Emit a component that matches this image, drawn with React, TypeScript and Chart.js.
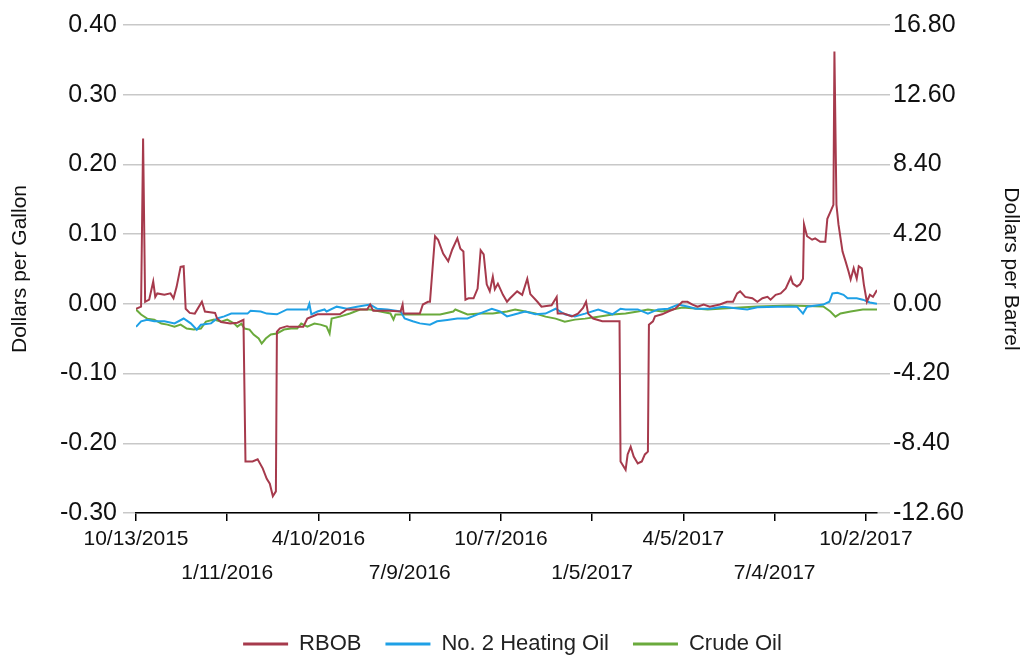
import { useEffect, useRef } from 'react';
import { Chart, registerables } from 'chart.js';

Chart.register(...registerables);

// Day offsets are counted from 10/13/2015
const xTickDays = [0, 90, 180, 270, 360, 450, 540, 630, 720];
const xTickLabels = ['10/13/2015', '1/11/2016', '4/10/2016', '7/9/2016', '10/7/2016', '1/5/2017', '4/5/2017', '7/4/2017', '10/2/2017'];

const rbobDays = [0, 5, 7, 9, 13, 17, 19, 21, 28, 34, 37, 40, 44, 47, 49, 53, 58, 65, 68, 73, 78, 80, 84, 93, 100, 106, 108, 115, 120, 125, 129, 132, 135, 138, 139, 142, 149, 152, 165, 169, 179, 185, 189, 201, 208, 220, 228, 231, 234, 250, 261, 263, 264, 280, 283, 288, 290, 295, 298, 303, 308, 312, 317, 320, 323, 325, 328, 333, 337, 340, 343, 346, 349, 352, 354, 357, 362, 366, 369, 376, 381, 386, 389, 396, 400, 410, 415, 416, 422, 430, 436, 441, 444, 446, 451, 460, 473, 477, 478, 483, 485, 488, 491, 495, 499, 502, 505, 506, 510, 512, 519, 525, 532, 539, 544, 549, 554, 560, 566, 576, 583, 589, 593, 596, 601, 608, 613, 618, 623, 626, 631, 636, 641, 646, 648, 652, 655, 658, 659, 662, 667, 670, 675, 680, 682, 685, 688, 689, 691, 693, 697, 700, 703, 705, 708, 711, 713, 716, 718, 721, 724, 727, 731];
const rbobValues = [-0.007, -0.004, 0.237, 0.003, 0.006, 0.032, 0.010, 0.015, 0.013, 0.015, 0.008, 0.024, 0.053, 0.054, -0.007, -0.013, -0.014, 0.003, -0.011, -0.012, -0.013, -0.021, -0.026, -0.028, -0.027, -0.023, -0.226, -0.226, -0.223, -0.236, -0.251, -0.258, -0.276, -0.269, -0.040, -0.035, -0.032, -0.033, -0.033, -0.021, -0.015, -0.015, -0.015, -0.015, -0.008, -0.008, -0.008, -0.001, -0.010, -0.010, -0.011, -0.001, -0.014, -0.014, -0.001, 0.003, 0.003, 0.097, 0.092, 0.072, 0.061, 0.078, 0.094, 0.079, 0.075, 0.006, 0.008, 0.008, 0.022, 0.077, 0.071, 0.028, 0.018, 0.039, 0.021, 0.029, 0.013, 0.003, 0.008, 0.018, 0.013, 0.036, 0.014, 0.003, -0.004, -0.002, 0.010, -0.014, -0.014, -0.018, -0.014, -0.006, 0.003, -0.014, -0.021, -0.025, -0.025, -0.025, -0.226, -0.238, -0.216, -0.205, -0.219, -0.229, -0.226, -0.216, -0.212, -0.030, -0.025, -0.018, -0.015, -0.011, -0.007, 0.003, 0.003, -0.001, -0.004, -0.001, -0.004, -0.001, 0.003, 0.003, 0.015, 0.018, 0.010, 0.008, 0.003, 0.008, 0.010, 0.006, 0.013, 0.015, 0.022, 0.038, 0.029, 0.025, 0.028, 0.036, 0.114, 0.097, 0.092, 0.094, 0.089, 0.089, 0.122, 0.132, 0.142, 0.362, 0.142, 0.114, 0.075, 0.061, 0.046, 0.035, 0.051, 0.036, 0.054, 0.051, 0.028, 0.003, 0.013, 0.010, 0.020];

const heatingDays = [0, 5, 11, 18, 28, 38, 47, 54, 60, 64, 74, 80, 87, 94, 100, 110, 113, 123, 129, 139, 149, 159, 169, 171, 173, 179, 186, 188, 198, 208, 218, 231, 238, 248, 261, 265, 273, 280, 290, 297, 307, 317, 327, 337, 351, 359, 366, 374, 384, 394, 404, 414, 423, 433, 443, 456, 470, 478, 483, 495, 505, 515, 525, 535, 545, 552, 566, 579, 596, 603, 613, 633, 652, 658, 662, 678, 684, 687, 692, 698, 702, 711, 717, 724, 731];
const heatingValues = [-0.033, -0.025, -0.023, -0.025, -0.025, -0.028, -0.021, -0.028, -0.037, -0.030, -0.028, -0.021, -0.018, -0.014, -0.014, -0.014, -0.010, -0.011, -0.014, -0.015, -0.008, -0.008, -0.008, 0.000, -0.015, -0.011, -0.008, -0.011, -0.004, -0.007, -0.004, -0.001, -0.007, -0.008, -0.011, -0.021, -0.025, -0.028, -0.030, -0.025, -0.023, -0.021, -0.021, -0.015, -0.007, -0.011, -0.018, -0.015, -0.011, -0.015, -0.014, -0.007, -0.015, -0.018, -0.014, -0.008, -0.015, -0.007, -0.008, -0.008, -0.014, -0.008, -0.007, -0.001, -0.004, -0.007, -0.007, -0.004, -0.007, -0.008, -0.005, -0.004, -0.004, -0.014, -0.004, -0.001, 0.003, 0.015, 0.016, 0.013, 0.008, 0.008, 0.006, 0.002, 0.000];

const crudeDays = [0, 5, 11, 18, 25, 31, 38, 44, 50, 57, 64, 69, 77, 84, 90, 97, 100, 104, 107, 112, 116, 121, 124, 128, 133, 139, 146, 153, 159, 163, 169, 176, 182, 188, 191, 193, 201, 211, 221, 231, 241, 251, 254, 256, 264, 273, 287, 300, 313, 315, 327, 339, 352, 366, 374, 384, 394, 404, 414, 423, 433, 443, 456, 470, 483, 495, 505, 519, 529, 539, 552, 564, 579, 596, 613, 645, 678, 685, 690, 695, 705, 717, 731];
const crudeValues = [-0.34, -0.64, -0.89, -0.95, -1.19, -1.25, -1.37, -1.25, -1.49, -1.55, -1.49, -1.07, -0.95, -1.07, -0.95, -1.19, -1.37, -1.19, -1.49, -1.55, -1.85, -2.09, -2.39, -2.09, -1.85, -1.79, -1.55, -1.49, -1.49, -1.19, -1.37, -1.19, -1.25, -1.37, -1.79, -0.89, -0.77, -0.58, -0.34, -0.34, -0.46, -0.58, -0.95, -0.64, -0.64, -0.64, -0.64, -0.64, -0.46, -0.34, -0.64, -0.58, -0.58, -0.46, -0.34, -0.46, -0.58, -0.77, -0.89, -1.07, -0.95, -0.89, -0.77, -0.64, -0.58, -0.46, -0.34, -0.46, -0.34, -0.22, -0.28, -0.34, -0.28, -0.22, -0.16, -0.10, -0.16, -0.46, -0.77, -0.58, -0.46, -0.34, -0.34];

const FONT = '"Liberation Sans", Arial, sans-serif';

const toPoints = (days: number[], vals: number[]) => days.map((d, i) => ({ x: d, y: vals[i] }));

export default function App() {
  const ref = useRef<HTMLCanvasElement>(null);
  useEffect(() => {
    const chart = new Chart(ref.current as HTMLCanvasElement, {
      type: 'line',
      data: {
        datasets: [
          { label: 'RBOB', data: toPoints(rbobDays, rbobValues), borderColor: '#a63a4c', backgroundColor: '#a63a4c', borderWidth: 2, pointRadius: 0, yAxisID: 'y' },
          { label: 'No. 2 Heating Oil', data: toPoints(heatingDays, heatingValues), borderColor: '#1ea0e6', backgroundColor: '#1ea0e6', borderWidth: 2, pointRadius: 0, yAxisID: 'y' },
          { label: 'Crude Oil', data: toPoints(crudeDays, crudeValues), borderColor: '#6aaa3c', backgroundColor: '#6aaa3c', borderWidth: 2, pointRadius: 0, yAxisID: 'y1' },
        ],
      },
      options: {
        animation: false,
        responsive: true,
        maintainAspectRatio: false,
        layout: { padding: { top: 25, left: 0, right: 0, bottom: -9 } },
        plugins: {
          tooltip: { enabled: false },
          legend: {
            position: 'bottom',
            labels: {
              boxWidth: 45,
              boxHeight: 3,
              padding: 24,
              color: '#222',
              font: { family: FONT, size: 22 },
              generateLabels: (c: any) => Chart.defaults.plugins.legend.labels.generateLabels(c).map((it: any) => ({ ...it, fillStyle: it.strokeStyle, lineWidth: 0 })),
            },
          },
        },
        scales: {
          x: {
            type: 'linear',
            min: 0,
            max: 731,
            afterFit: (s: any) => { s.height = 96; },
            afterBuildTicks: (s: any) => { s.ticks = xTickDays.map((v) => ({ value: v })); },
            grid: { display: true, drawOnChartArea: false, drawTicks: true, tickLength: 8, color: '#000', lineWidth: 1.5 },
            border: { display: true, color: '#000', width: 1.5 },
            ticks: {
              autoSkip: false,
              maxRotation: 0,
              minRotation: 0,
              padding: 1,
              color: '#111',
              font: { family: FONT, size: 21, lineHeight: 1.62 },
              callback: (_v: any, i: number) => (i % 2 === 1 ? ['', xTickLabels[i]] : xTickLabels[i]),
            },
          },
          y: {
            position: 'left',
            min: -0.3,
            max: 0.4,
            afterFit: (s: any) => { s.width = 136; },
            ticks: { stepSize: 0.1, padding: 6, color: '#111', font: { family: FONT, size: 25 }, callback: (v: any) => Number(v).toFixed(2) },
            grid: { color: '#c8c8c8', lineWidth: 1.5, tickLength: 13, drawTicks: true },
            border: { display: false },
            title: { display: true, text: 'Dollars per Gallon', color: '#111', font: { family: FONT, size: 21 }, padding: { top: 8, bottom: 0 } },
          },
          y1: {
            position: 'right',
            min: -12.6,
            max: 16.8,
            afterFit: (s: any) => { s.width = 148; },
            ticks: { stepSize: 4.2, padding: 3, color: '#111', font: { family: FONT, size: 25 }, callback: (v: any) => Number(v).toFixed(2) },
            grid: { drawOnChartArea: false, color: '#c8c8c8', lineWidth: 1.5, tickLength: 13, drawTicks: true },
            border: { display: false },
            title: { display: true, text: 'Dollars per Barrel', color: '#111', font: { family: FONT, size: 21 }, padding: { top: 2, bottom: 0 } },
          },
        },
      } as any,
    });
    return () => chart.destroy();
  }, []);
  return (
    <div style={{ position: 'fixed', left: 0, top: 0, width: 1025, height: 656, background: '#fff' }}>
      <canvas ref={ref} />
    </div>
  );
}
